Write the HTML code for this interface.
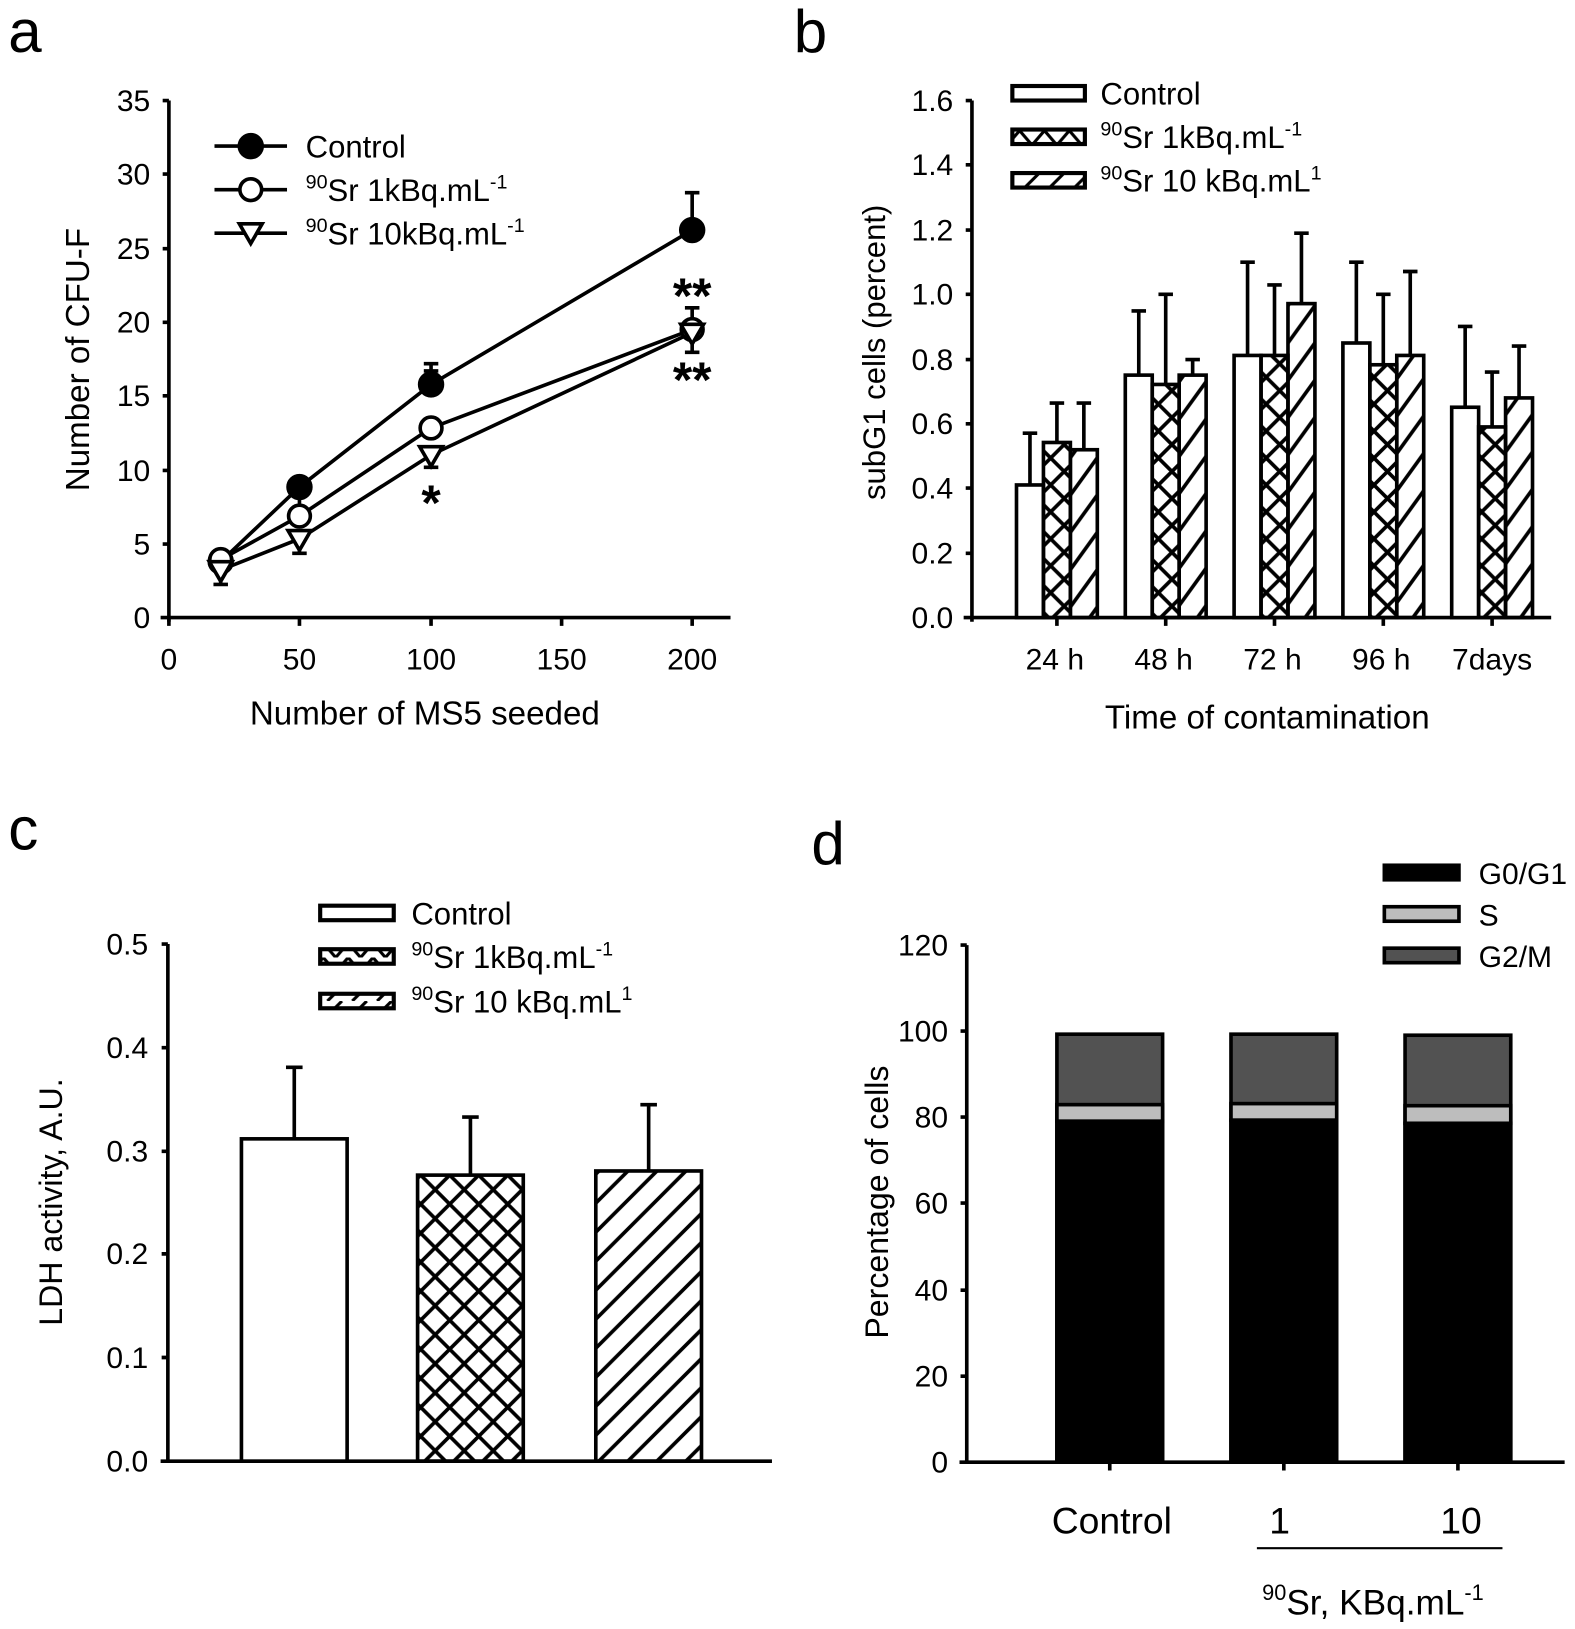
<!DOCTYPE html>
<html><head><meta charset="utf-8"><style>
html,body{margin:0;padding:0;background:#fff;}
svg{display:block;}
text{font-family:"Liberation Sans",Arial,sans-serif;fill:#000;}
</style></head><body>
<svg width="1575" height="1629" viewBox="0 0 1520 1572" preserveAspectRatio="none" xmlns="http://www.w3.org/2000/svg">
<defs>
<pattern id="xb" width="26" height="26" patternUnits="userSpaceOnUse">
<path d="M0 0L26 26M26 0L0 26M-2 2L2 -2M24 28L28 24M-2 24L2 28M24 -2L28 2" stroke="#000" stroke-width="3.5"/>
</pattern>
<pattern id="db" width="26" height="36" patternUnits="userSpaceOnUse">
<path d="M0 36L26 0M-5 7L5 -7M21 43L31 29" stroke="#000" stroke-width="3.5"/>
</pattern>
<pattern id="xc" width="28" height="28" patternUnits="userSpaceOnUse">
<path d="M0 0L28 28M28 0L0 28" stroke="#000" stroke-width="3.5"/>
</pattern>
<pattern id="dc" width="28" height="28" patternUnits="userSpaceOnUse">
<path d="M0 28L28 0M-7 7L7 -7M21 35L35 21" stroke="#000" stroke-width="3.5"/>
</pattern>
<pattern id="xl" width="24" height="14" patternUnits="userSpaceOnUse">
<path d="M0 0L12 14L24 0" stroke="#000" stroke-width="3" fill="none"/>
</pattern>
<pattern id="dl" width="24" height="14" patternUnits="userSpaceOnUse">
<path d="M4 14L18 0" stroke="#000" stroke-width="3"/>
</pattern>
</defs>

<!-- Panel a -->
<text x="8" y="50" font-size="58">a</text>
<g stroke="#000" stroke-width="3.5" fill="none">
<path d="M163 97V600M155 596H705"/>
<path d="M157 97h6M157 168h6M157 240h6M157 311h6M157 382h6M157 454h6M157 525h6"/>
<path d="M163 596v8M289 596v8M416 596v8M542 596v8M668 596v8"/>
</g>
<g font-size="29" text-anchor="end">
<text x="145" y="107">35</text><text x="145" y="178">30</text><text x="145" y="250">25</text><text x="145" y="321">20</text><text x="145" y="392">15</text><text x="145" y="464">10</text><text x="145" y="535">5</text><text x="145" y="606">0</text>
</g>
<g font-size="29" text-anchor="middle">
<text x="163" y="646">0</text><text x="289" y="646">50</text><text x="416" y="646">100</text><text x="542" y="646">150</text><text x="668" y="646">200</text>
</g>
<text x="410" y="699" font-size="32" text-anchor="middle">Number of MS5 seeded</text>
<text transform="translate(86,347) rotate(-90)" font-size="32" text-anchor="middle">Number of CFU-F</text>
<g stroke="#000" stroke-width="3.5" fill="none">
<path d="M289 462V470M282 462H296M416 351V371M409 351H423M668 186V222M661 186H675"/>
<path d="M289 478V486M282 478H296M416 358V372M409 358H423M668 297V318M661 297H675"/>
<path d="M213 551V564M206 564H220M289 522V534M282 534H296M416 438V451M409 451H423M668 321V340M661 340H675"/>
<polyline points="213,542 289,470 416,371 668,222"/>
<polyline points="213,540 289,498 416,413 668,318"/>
<polyline points="213,550 289,520 416,439 668,321"/>
</g>
<g stroke="#000" stroke-width="3.5">
<circle cx="213" cy="542" r="11" fill="#000"/><circle cx="289" cy="470" r="11" fill="#000"/><circle cx="416" cy="371" r="11" fill="#000"/><circle cx="668" cy="222" r="11" fill="#000"/>
<circle cx="213" cy="540" r="10.5" fill="#fff"/><circle cx="289" cy="498" r="10.5" fill="#fff"/><circle cx="416" cy="413" r="10.5" fill="#fff"/><circle cx="668" cy="318" r="10.5" fill="#fff"/>
<path d="M202 542H224L213 561Z M278 512H300L289 531Z M405 431H427L416 450Z M657 313H679L668 332Z" fill="#fff"/>
</g>
<g font-size="48" font-weight="bold" text-anchor="middle">
<text x="668" y="302">**</text><text x="416" y="502">*</text><text x="668" y="383">**</text>
</g>
<g stroke="#000" stroke-width="3.5">
<path d="M207 141H277M207 183H277M207 225H277"/>
<circle cx="242" cy="141" r="11" fill="#000"/><circle cx="242" cy="183" r="10.5" fill="#fff"/>
<path d="M231 216H253L242 235Z" fill="#fff"/>
</g>
<g font-size="30">
<text x="295" y="152">Control</text>
<text x="295" y="194"><tspan font-size="19" dy="-12">90</tspan><tspan dy="12">Sr 1kBq.mL</tspan><tspan font-size="19" dy="-12">-1</tspan></text>
<text x="295" y="236"><tspan font-size="19" dy="-12">90</tspan><tspan dy="12">Sr 10kBq.mL</tspan><tspan font-size="19" dy="-12">-1</tspan></text>
</g>

<!-- Panel b -->
<text x="766" y="50" font-size="58">b</text>
<g stroke="#000" stroke-width="3.5" fill="none">
<path d="M938 97V600M930 596H1497"/>
<path d="M932 97h6M932 159h6M932 222h6M932 284h6M932 347h6M932 409h6M932 471h6M932 534h6"/>
<path d="M1020 596v8M1125 596v8M1230 596v8M1335 596v8M1440 596v8"/>
</g>
<g font-size="29" text-anchor="end">
<text x="920" y="107">1.6</text><text x="920" y="169">1.4</text><text x="920" y="232">1.2</text><text x="920" y="294">1.0</text><text x="920" y="357">0.8</text><text x="920" y="419">0.6</text><text x="920" y="481">0.4</text><text x="920" y="544">0.2</text><text x="920" y="606">0.0</text>
</g>
<g font-size="29" text-anchor="middle">
<text x="1018" y="646">24 h</text><text x="1123" y="646">48 h</text><text x="1228" y="646">72 h</text><text x="1333" y="646">96 h</text><text x="1440" y="646">7days</text>
</g>
<text x="1223" y="703" font-size="32" text-anchor="middle">Time of contamination</text>
<text transform="translate(854,340) rotate(-90)" font-size="30" text-anchor="middle">subG1 cells (percent)</text>
<g stroke="#000" stroke-width="3.5">
<path d="M994 418V518M987 418H1001M1020 389V427M1013 389H1027M1046 389V434M1039 389H1053"/>
<rect x="981" y="468" width="26" height="128" fill="#fff"/>
<rect x="1007" y="427" width="26" height="169" fill="url(#xb)"/>
<rect x="1033" y="434" width="26" height="162" fill="url(#db)"/>
<path d="M1099 300V362M1092 300H1106M1125 284V371M1118 284H1132M1151 347V362M1144 347H1158"/>
<rect x="1086" y="362" width="26" height="234" fill="#fff"/>
<rect x="1112" y="371" width="26" height="225" fill="url(#xb)"/>
<rect x="1138" y="362" width="26" height="234" fill="url(#db)"/>
<path d="M1204 253V343M1197 253H1211M1230 275V343M1223 275H1237M1256 225V293M1249 225H1263"/>
<rect x="1191" y="343" width="26" height="253" fill="#fff"/>
<rect x="1217" y="343" width="26" height="253" fill="url(#xb)"/>
<rect x="1243" y="293" width="26" height="303" fill="url(#db)"/>
<path d="M1309 253V331M1302 253H1316M1335 284V352M1328 284H1342M1361 262V343M1354 262H1368"/>
<rect x="1296" y="331" width="26" height="265" fill="#fff"/>
<rect x="1322" y="352" width="26" height="244" fill="url(#xb)"/>
<rect x="1348" y="343" width="26" height="253" fill="url(#db)"/>
<path d="M1414 315V393M1407 315H1421M1440 359V412M1433 359H1447M1466 334V384M1459 334H1473"/>
<rect x="1401" y="393" width="26" height="203" fill="#fff"/>
<rect x="1427" y="412" width="26" height="184" fill="url(#xb)"/>
<rect x="1453" y="384" width="26" height="212" fill="url(#db)"/>
</g>
<g stroke="#000" stroke-width="4">
<rect x="977" y="83" width="70" height="14" fill="#fff"/>
<rect x="977" y="125" width="70" height="14" fill="url(#xl)"/>
<rect x="977" y="167" width="70" height="14" fill="url(#dl)"/>
</g>
<g font-size="30">
<text x="1062" y="101">Control</text>
<text x="1062" y="143"><tspan font-size="19" dy="-12">90</tspan><tspan dy="12">Sr 1kBq.mL</tspan><tspan font-size="19" dy="-12">-1</tspan></text>
<text x="1062" y="185"><tspan font-size="19" dy="-12">90</tspan><tspan dy="12">Sr 10 kBq.mL</tspan><tspan font-size="19" dy="-12">1</tspan></text>
</g>

<!-- Panel c -->
<text x="8" y="820" font-size="58">c</text>
<g stroke="#000" stroke-width="3.5" fill="none">
<path d="M162 911V1410M155 1410H745"/>
<path d="M156 911h6M156 1011h6M156 1111h6M156 1210h6M156 1310h6"/>
</g>
<g font-size="29" text-anchor="end">
<text x="143" y="921">0.5</text><text x="143" y="1021">0.4</text><text x="143" y="1121">0.3</text><text x="143" y="1220">0.2</text><text x="143" y="1320">0.1</text><text x="143" y="1420">0.0</text>
</g>
<text transform="translate(60,1160) rotate(-90)" font-size="31" text-anchor="middle">LDH activity, A.U.</text>
<g stroke="#000" stroke-width="3.5">
<path d="M284 1030V1099M276 1030H292M454 1078V1134M446 1078H462M626 1066V1130M618 1066H634"/>
<rect x="233" y="1099" width="102" height="311" fill="#fff"/>
<rect x="403" y="1134" width="102" height="276" fill="url(#xc)"/>
<rect x="575" y="1130" width="102" height="280" fill="url(#dc)"/>
</g>
<g stroke="#000" stroke-width="4">
<rect x="309" y="874" width="71" height="14" fill="#fff"/>
<rect x="309" y="916" width="71" height="14" fill="url(#xl)"/>
<rect x="309" y="959" width="71" height="14" fill="url(#dl)"/>
</g>
<g font-size="30">
<text x="397" y="892">Control</text>
<text x="397" y="934"><tspan font-size="19" dy="-12">90</tspan><tspan dy="12">Sr 1kBq.mL</tspan><tspan font-size="19" dy="-12">-1</tspan></text>
<text x="397" y="977"><tspan font-size="19" dy="-12">90</tspan><tspan dy="12">Sr 10 kBq.mL</tspan><tspan font-size="19" dy="-12">1</tspan></text>
</g>

<!-- Panel d -->
<text x="783" y="834" font-size="58">d</text>
<g stroke="#000" stroke-width="3.5" fill="none">
<path d="M933 912V1411M926 1411H1510"/>
<path d="M927 912h6M927 995h6M927 1078h6M927 1161h6M927 1245h6M927 1328h6"/>
<path d="M1071 1411v8M1239 1411v8M1407 1411v8"/>
</g>
<g font-size="29" text-anchor="end">
<text x="915" y="922">120</text><text x="915" y="1005">100</text><text x="915" y="1088">80</text><text x="915" y="1171">60</text><text x="915" y="1255">40</text><text x="915" y="1338">20</text><text x="915" y="1421">0</text>
</g>
<text transform="translate(857,1160) rotate(-90)" font-size="31" text-anchor="middle">Percentage of cells</text>
<g stroke="#000" stroke-width="3.5">
<rect x="1020" y="998" width="102" height="413" fill="#525252"/>
<rect x="1020" y="1066" width="102" height="16" fill="#bdbdbd"/>
<rect x="1020" y="1082" width="102" height="329" fill="#000"/>
<rect x="1188" y="998" width="102" height="413" fill="#525252"/>
<rect x="1188" y="1065" width="102" height="16" fill="#bdbdbd"/>
<rect x="1188" y="1081" width="102" height="330" fill="#000"/>
<rect x="1356" y="999" width="102" height="412" fill="#525252"/>
<rect x="1356" y="1067" width="102" height="17" fill="#bdbdbd"/>
<rect x="1356" y="1084" width="102" height="327" fill="#000"/>
</g>
<g stroke="#000" stroke-width="3.5">
<rect x="1336" y="835" width="72" height="14" fill="#000"/>
<rect x="1336" y="875" width="72" height="14" fill="#bdbdbd"/>
<rect x="1336" y="915" width="72" height="14" fill="#525252"/>
</g>
<g font-size="29">
<text x="1427" y="853">G0/G1</text><text x="1427" y="893">S</text><text x="1427" y="933">G2/M</text>
</g>
<g font-size="36" text-anchor="middle">
<text x="1073" y="1480">Control</text><text x="1235" y="1480">1</text><text x="1410" y="1480">10</text>
</g>
<path d="M1213 1494H1450" stroke="#000" stroke-width="2"/>
<text x="1325" y="1558" font-size="34" text-anchor="middle"><tspan font-size="21" dy="-14">90</tspan><tspan dy="14">Sr, KBq.mL</tspan><tspan font-size="21" dy="-14">-1</tspan></text>
</svg>
</body></html>
